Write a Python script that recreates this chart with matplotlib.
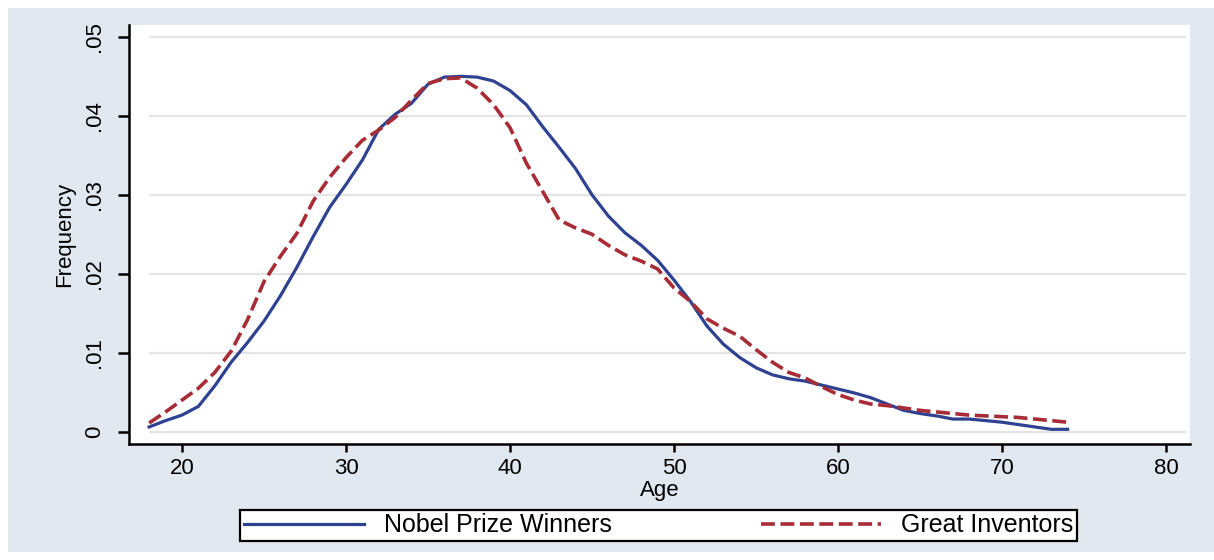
import matplotlib
matplotlib.use('Agg')
import matplotlib.pyplot as plt
from matplotlib.patches import Rectangle

plt.rcParams['font.family'] = ['Liberation Sans', 'DejaVu Sans']
plt.rcParams['lines.scale_dashes'] = False

# age grid and density estimates
ages = list(range(18, 75))
nobel = [0.0006, 0.0014, 0.0021, 0.0032, 0.0058, 0.0088, 0.0113, 0.0140, 0.0172, 0.0208,
         0.0247, 0.0284, 0.0313, 0.0344, 0.0383, 0.0402, 0.0416, 0.0440, 0.0449, 0.0450,
         0.0449, 0.0444, 0.0432, 0.0414, 0.0386, 0.0360, 0.0333, 0.0300, 0.0273, 0.0252,
         0.0236, 0.0217, 0.0192, 0.0165, 0.0134, 0.0111, 0.0094, 0.0081, 0.0072, 0.0067,
         0.0064, 0.0059, 0.0054, 0.0049, 0.0043, 0.0035, 0.0027, 0.0023, 0.0020, 0.0016,
         0.0016, 0.0014, 0.0012, 0.0009, 0.0006, 0.0003, 0.0003]
inventors = [0.0011, 0.0025, 0.0040, 0.0055, 0.0075, 0.0102, 0.0142, 0.0190, 0.0222, 0.0251,
             0.0292, 0.0322, 0.0347, 0.0369, 0.0382, 0.0398, 0.0420, 0.0441, 0.0447, 0.0448,
             0.0435, 0.0414, 0.0385, 0.0340, 0.0304, 0.0268, 0.0258, 0.0250, 0.0236, 0.0224,
             0.0216, 0.0206, 0.0182, 0.0165, 0.0143, 0.0131, 0.0121, 0.0104, 0.0088, 0.0075,
             0.0068, 0.0057, 0.0047, 0.0040, 0.0035, 0.0033, 0.0030, 0.0027, 0.0025, 0.0023,
             0.0021, 0.0020, 0.0019, 0.0018, 0.0016, 0.0014, 0.0012]

xticks = [20, 30, 40, 50, 60, 70, 80]
yticks = [0, 0.01, 0.02, 0.03, 0.04, 0.05]
ytick_labels = ['0', '.01', '.02', '.03', '.04', '.05']
series_names = ['Nobel Prize Winners', 'Great Inventors']

W, H = 1214, 560
fig = plt.figure(figsize=(W / 100, H / 100), dpi=100, facecolor='white')
# graph region (stata-like bluish backdrop)
fig.patches.append(Rectangle((8 / W, 8 / H), (W - 8) / W, (H - 16) / H,
                             transform=fig.transFigure, facecolor='#e2e8f0',
                             edgecolor='none', zorder=-5))

ax = fig.add_axes([129 / W, 1 - 444 / H, (1190 - 129) / W, (444 - 25) / H])
ax.set_facecolor('white')

for yv in yticks:
    ax.axhline(yv, xmin=0.02, xmax=0.995, color='#e4e4e4', lw=1.6, zorder=1)

ax.plot(ages, nobel, color='#2e4291', lw=2.3, label=series_names[0], zorder=3)
ax.plot(ages, inventors, color='#a82c35', lw=2.6, dashes=[10, 4],
        label=series_names[1], zorder=3)

ax.set_xlim(16.77, 81.46)
ax.set_ylim(-0.00156, 0.0515)

ax.spines['top'].set_visible(False)
ax.spines['right'].set_visible(False)
ax.spines['left'].set_linewidth(1.8)
ax.spines['bottom'].set_linewidth(1.8)

ax.set_xticks(xticks)
ax.set_xticklabels([str(v) for v in xticks], fontsize=16)
ax.set_yticks(yticks)
ax.set_yticklabels(ytick_labels, fontsize=16, rotation=90, va='center')
ax.tick_params(axis='x', length=6, width=1.8, pad=4, colors='black')
ax.tick_params(axis='y', length=8, width=1.8, pad=9, colors='black')

ax.set_xlabel('Age', fontsize=16, labelpad=1)
ax.set_ylabel('Frequency', fontsize=16, labelpad=7)

leg = fig.legend(loc='center', ncol=2, mode='expand',
                 bbox_to_anchor=(240 / W, 1 - 543 / H, (1077 - 240) / W, 35 / H),
                 fontsize=18, frameon=True, fancybox=False, borderpad=0.15,
                 handlelength=4.8, handletextpad=0.8, columnspacing=2.0,
                 borderaxespad=0)
leg.get_frame().set_edgecolor('black')
leg.get_frame().set_linewidth(1.6)
leg.get_frame().set_facecolor('white')
leg.get_frame().set_alpha(1)

fig.savefig('out.png', dpi=100, facecolor=fig.get_facecolor())
